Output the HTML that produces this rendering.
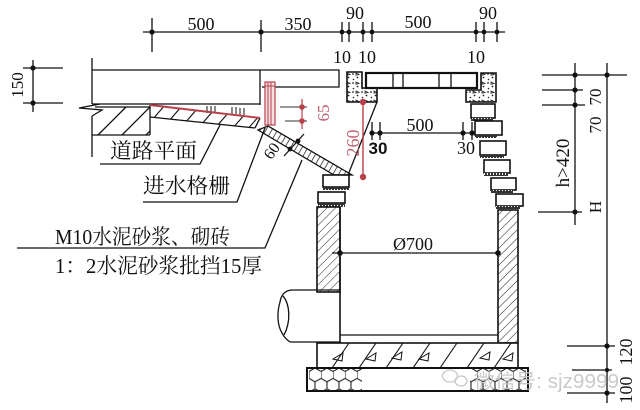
<!DOCTYPE html>
<html><head><meta charset="utf-8"><style>html,body{margin:0;padding:0;background:#fff}svg{display:block}</style></head>
<body>
<svg width="640" height="410" viewBox="0 0 640 410" xmlns="http://www.w3.org/2000/svg">
<defs>
<pattern id="hatch" width="6" height="6" patternUnits="userSpaceOnUse" patternTransform="rotate(45)"><line x1="0" y1="0" x2="0" y2="6" stroke="#222" stroke-width="1"/></pattern>
<pattern id="hatchS" width="5" height="5" patternUnits="userSpaceOnUse" patternTransform="rotate(30)"><line x1="0" y1="0" x2="0" y2="5" stroke="#222" stroke-width="1.5"/></pattern>
<pattern id="conc" width="9" height="9" patternUnits="userSpaceOnUse"><circle cx="2" cy="2" r="0.9" fill="#222"/><circle cx="6.5" cy="5.5" r="0.9" fill="#222"/><circle cx="2.5" cy="7.5" r="0.8" fill="#222"/><path d="M5,1 L8,2.5 L5,3.2 Z" fill="none" stroke="#222" stroke-width="0.8"/></pattern>
<pattern id="mortar" width="3" height="4" patternUnits="userSpaceOnUse"><rect width="3" height="4" fill="#333"/><rect x="1" y="1" width="1" height="2" fill="#fff"/></pattern>
<pattern id="hex" x="309" y="368" width="12" height="20.78" patternUnits="userSpaceOnUse"><path d="M0,3.46 L0,10.39 L6,13.86 L12,10.39 M6,13.86 L6,20.78 M0,3.46 L6,0 L12,3.46" fill="none" stroke="#222" stroke-width="1.1"/></pattern>
<clipPath id="baseClip"><rect x="317" y="343" width="201" height="25"/></clipPath>
<clipPath id="slopeClip"><polygon points="150,105 260,118 255,128 150,117"/></clipPath>
<clipPath id="roadClip"><rect x="93" y="107" width="57" height="28"/></clipPath>
</defs>

<g stroke="#111" stroke-width="1.3" fill="none">
<!-- top dimension -->
<line x1="143" y1="32" x2="505" y2="32"/>
<line x1="152" y1="18" x2="152" y2="52"/><line x1="261" y1="20" x2="261" y2="52"/>
<line x1="342" y1="22" x2="342" y2="42"/><line x1="349" y1="22" x2="349" y2="42"/>
<line x1="363" y1="22" x2="363" y2="42"/><line x1="372" y1="22" x2="372" y2="42"/>
<line x1="476" y1="22" x2="476" y2="42"/><line x1="484" y1="22" x2="484" y2="42"/>
<line x1="497" y1="22" x2="497" y2="42"/>

<!-- left 150 dim -->
<line x1="33" y1="60" x2="33" y2="112"/>
<line x1="23" y1="68" x2="63" y2="68"/><line x1="23" y1="103" x2="63" y2="103"/>

<!-- road slab -->
<line x1="92" y1="58" x2="92" y2="104"/>
<polyline points="92,70 339,70 339,87 262,87"/>
<line x1="260" y1="70" x2="260" y2="105"/>
<line x1="92" y1="104" x2="260" y2="104"/>
<polyline points="100,104 79,108 102,110 92,116"/>
<line x1="92" y1="116" x2="92" y2="157"/>
<line x1="92" y1="135" x2="150" y2="135"/>
<line x1="95" y1="107" x2="150" y2="107"/>
<line x1="150" y1="105" x2="150" y2="135"/>
<g clip-path="url(#roadClip)">
<line x1="98" y1="135" x2="126" y2="107"/><line x1="122" y1="135" x2="150" y2="107"/><line x1="146" y1="135" x2="174" y2="107"/>
</g>
<!-- sloped layer -->
<line x1="150" y1="117" x2="255" y2="128"/>
<line x1="260" y1="118" x2="255" y2="128"/>
<g clip-path="url(#slopeClip)" stroke-width="1.1">
<line x1="152" y1="120" x2="166" y2="104"/><line x1="168" y1="122" x2="182" y2="106"/><line x1="184" y1="124" x2="198" y2="108"/>
<line x1="200" y1="126" x2="214" y2="110"/><line x1="216" y1="127" x2="230" y2="111"/><line x1="232" y1="129" x2="246" y2="113"/>
<line x1="246" y1="131" x2="260" y2="115"/>
</g>
<g stroke-width="1">
<line x1="207" y1="106" x2="207" y2="113"/><line x1="211" y1="106" x2="211" y2="113"/><line x1="215" y1="106" x2="215" y2="113"/>
<line x1="232" y1="107" x2="232" y2="114"/><line x1="236" y1="107" x2="236" y2="114"/><line x1="240" y1="108" x2="240" y2="115"/><line x1="244" y1="108" x2="244" y2="115"/>
</g>

<!-- sloped support strip -->
<polygon points="268,126 352,175 334,175 258,130" fill="url(#hatchS)"/>
<!-- 60 dim -->
<line x1="304" y1="134" x2="284" y2="156"/>
<!-- side line -->
<line x1="377" y1="102" x2="348" y2="175"/>

<!-- left bricks -->
<rect x="323" y="175" width="26" height="12" fill="#fff" stroke-width="1.6"/>
<rect x="323" y="187" width="26" height="3" fill="url(#mortar)" stroke="none"/>
<rect x="318" y="192" width="27" height="11" fill="#fff" stroke-width="1.6"/>
<rect x="318" y="203" width="27" height="4" fill="url(#mortar)" stroke="none"/>
<!-- right bricks -->
<rect x="471" y="104" width="24" height="14" fill="#fff" stroke-width="1.6"/>
<rect x="471" y="118" width="22" height="3" fill="url(#mortar)" stroke="none"/>
<rect x="475" y="121" width="27" height="14" fill="#fff" stroke-width="1.6"/>
<rect x="475" y="135" width="22" height="3" fill="url(#mortar)" stroke="none"/>
<rect x="480" y="141" width="26" height="14" fill="#fff" stroke-width="1.6"/>
<rect x="480" y="155" width="24" height="3" fill="url(#mortar)" stroke="none"/>
<rect x="484" y="160" width="26" height="13" fill="#fff" stroke-width="1.6"/>
<rect x="484" y="173" width="24" height="3" fill="url(#mortar)" stroke="none"/>
<rect x="491" y="178" width="25" height="12" fill="#fff" stroke-width="1.6"/>
<rect x="491" y="190" width="22" height="3" fill="url(#mortar)" stroke="none"/>
<rect x="496" y="194" width="27" height="12" fill="#fff" stroke-width="1.6"/>
<rect x="496" y="206" width="24" height="3" fill="url(#mortar)" stroke="none"/>

<!-- top covers -->
<polygon points="347,72 362,72 362,88 377,88 377,102 347,102" fill="url(#conc)" stroke-width="1.6"/>
<rect x="366" y="73" width="111" height="15" fill="#fff" stroke-width="2.2"/>
<line x1="393" y1="73" x2="393" y2="88"/><line x1="403" y1="73" x2="403" y2="88"/>
<line x1="439" y1="73" x2="439" y2="88"/><line x1="451" y1="73" x2="451" y2="88"/>
<polygon points="481,73 496,73 496,102 466,102 466,90 481,90" fill="url(#conc)" stroke-width="1.6"/>

<!-- walls -->
<rect x="317" y="207" width="23" height="85" fill="url(#hatch)" stroke-width="1.6"/>
<line x1="340" y1="207" x2="340" y2="343" stroke-width="1.6"/>
<rect x="498" y="210" width="20" height="133" fill="url(#hatch)" stroke-width="1.6"/>
<line x1="340" y1="335" x2="498" y2="335"/>

<!-- pipe -->
<line x1="291" y1="290" x2="340" y2="290"/>
<line x1="290" y1="342" x2="340" y2="342"/>
<path d="M291,290 C284,291 281,296 280,302 C277,312 277,325 282,333 C284,337 287,340 290,342"/>
<path d="M283,296 C290,304 291,322 284,335"/>

<!-- O700 dim -->
<line x1="332" y1="253" x2="498" y2="253"/>

<!-- base concrete -->
<rect x="317" y="343" width="201" height="25" fill="#fff" stroke-width="1.6"/>
<g clip-path="url(#baseClip)" stroke-width="1.1">
<line x1="332" y1="368" x2="349" y2="343"/><line x1="359" y1="368" x2="376" y2="343"/>
<line x1="386" y1="368" x2="403" y2="343"/><line x1="413" y1="368" x2="430" y2="343"/>
<line x1="440" y1="368" x2="457" y2="343"/><line x1="467" y1="368" x2="484" y2="343"/>
<line x1="494" y1="368" x2="511" y2="343"/>
</g>
<g stroke-width="1">
<path d="M333,359 L343,353 L342,361 Z"/><path d="M366,359 L376,353 L375,361 Z"/>
<path d="M392,358 L402,352 L401,360 Z"/><path d="M419,359 L429,353 L428,361 Z"/>
<path d="M480,358 L490,352 L489,360 Z"/><path d="M503,359 L513,353 L512,361 Z"/>
</g>
<!-- gravel -->
<rect x="307" y="368" width="221" height="23" fill="#fff" stroke-width="2"/>
<rect x="309" y="369" width="53" height="21" fill="url(#hex)" stroke="none"/>
<rect x="470" y="369" width="56" height="21" fill="url(#hex)" stroke="none"/>

<!-- inner 500 dim -->
<line x1="372" y1="133" x2="472" y2="133"/>
<line x1="372" y1="122" x2="372" y2="140"/><line x1="380" y1="122" x2="380" y2="140"/>
<line x1="463" y1="122" x2="463" y2="140"/><line x1="472" y1="122" x2="472" y2="140"/>

<!-- right dims -->
<line x1="575" y1="63" x2="575" y2="225"/>
<line x1="607" y1="63" x2="607" y2="403"/>
<line x1="542" y1="75" x2="627" y2="75"/>
<line x1="542" y1="90" x2="583" y2="90"/>
<line x1="542" y1="105" x2="585" y2="105"/>
<line x1="538" y1="212" x2="582" y2="212"/>
<line x1="567" y1="346" x2="615" y2="346"/>
<line x1="572" y1="370" x2="612" y2="370"/>
<line x1="567" y1="393" x2="615" y2="393"/>

<!-- leaders -->
<polyline points="100,164 200,164 220,125"/>
<polyline points="143,202 237,202 265,128"/>
<polyline points="17,248 265,248 302,160"/>
</g>

<!-- dots -->
<g fill="#111">
<circle cx="152" cy="32" r="2.6"/><circle cx="261" cy="32" r="2.6"/>
<circle cx="342" cy="32" r="2.4"/><circle cx="349" cy="32" r="2.4"/><circle cx="363" cy="32" r="2.4"/><circle cx="372" cy="32" r="2.4"/>
<circle cx="476" cy="32" r="2.4"/><circle cx="484" cy="32" r="2.4"/><circle cx="497" cy="32" r="2.4"/>
<circle cx="33" cy="68" r="2.6"/><circle cx="33" cy="103" r="2.6"/>
<circle cx="298" cy="141" r="2.4"/><circle cx="290" cy="149" r="2.4"/>
<circle cx="372" cy="133" r="2.6"/><circle cx="380" cy="133" r="2.6"/><circle cx="463" cy="133" r="2.6"/><circle cx="472" cy="133" r="2.6"/>
<circle cx="340" cy="253" r="2.8"/><circle cx="498" cy="253" r="2.8"/>
<circle cx="575" cy="75" r="2.6"/><circle cx="607" cy="75" r="2.6"/><circle cx="575" cy="90" r="2.6"/><circle cx="575" cy="105" r="2.6"/>
<circle cx="575" cy="212" r="2.6"/><circle cx="607" cy="346" r="2.6"/><circle cx="607" cy="370" r="2.2"/><circle cx="607" cy="393" r="2.6"/>
</g>

<!-- red elements -->
<g stroke="#b8404a" fill="none">
<line x1="150" y1="105" x2="260" y2="118" stroke-width="2"/>
<rect x="265" y="82" width="10" height="43" fill="#f4e0e0" stroke-width="1.2"/>
<line x1="268" y1="82" x2="268" y2="125"/><line x1="271" y1="82" x2="271" y2="125"/>
<line x1="265" y1="86" x2="275" y2="86"/>
<line x1="280" y1="107" x2="307" y2="107" stroke="#333"/>
<line x1="285" y1="121" x2="307" y2="121" stroke="#333"/>
<line x1="302" y1="99" x2="302" y2="129" stroke-width="1.2"/>
<line x1="363" y1="102" x2="363" y2="177" stroke-width="1.4"/>
</g>
<g fill="#b8404a">
<circle cx="302" cy="107" r="2.8"/><circle cx="302" cy="121" r="2.8"/>
<circle cx="363" cy="102" r="3.2"/><circle cx="363" cy="177" r="3.2"/>
</g>
<text transform="translate(329,113) rotate(-90)" text-anchor="middle" font-family="Liberation Serif, serif" font-size="17" fill="#c06070">65</text>
<text transform="translate(359,143) rotate(-90)" text-anchor="middle" font-family="Liberation Serif, serif" font-size="18" fill="#c06070">260</text>

<!-- dimension text -->
<g font-family="Liberation Serif, serif" font-size="18" fill="#111" text-anchor="middle">
<text x="201" y="30">500</text>
<text x="298" y="30">350</text>
<text x="355" y="19">90</text>
<text x="418" y="28">500</text>
<text x="488" y="19">90</text>
<text x="342" y="63">10</text>
<text x="367" y="63">10</text>
<text x="476" y="63">10</text>
<text x="420" y="131">500</text>
<text x="466" y="154">30</text>
<text x="413" y="250">Ø700</text>
<text transform="translate(23,85) rotate(-90)" font-size="17">150</text>
<text transform="translate(276,154) rotate(-55)" font-size="16">60</text>
<text transform="translate(601,97) rotate(-90)" font-size="17">70</text>
<text transform="translate(601,125) rotate(-90)" font-size="17">70</text>
<text transform="translate(569,163) rotate(-90)" font-size="19">h&gt;420</text>
<text transform="translate(601,207) rotate(-90)" font-size="17">H</text>
<text transform="translate(632,352) rotate(-90)" font-size="18">120</text>
<text transform="translate(632,390) rotate(-90)" font-size="18">100</text>
</g>
<text x="378" y="154" text-anchor="middle" font-family="Liberation Sans, sans-serif" font-weight="bold" font-size="17" fill="#111">30</text>

<!-- labels -->
<g font-family="Liberation Serif, 'Noto Serif CJK SC', serif" font-size="21" fill="#111">
<text x="110" y="158" textLength="87" lengthAdjust="spacingAndGlyphs">道路平面</text>
<text x="143" y="193" textLength="87" lengthAdjust="spacingAndGlyphs">进水格栅</text>
<text x="55" y="244" textLength="175" lengthAdjust="spacingAndGlyphs">M10水泥砂浆、砌砖</text>
<text x="55" y="273" textLength="207" lengthAdjust="spacingAndGlyphs">1：2水泥砂浆批挡15厚</text>
</g>

<!-- watermark -->
<g stroke="#c4c4c4" fill="none" stroke-width="1.3" opacity="0.9">
<ellipse cx="450" cy="376" rx="7.5" ry="6"/>
<ellipse cx="461" cy="381" rx="6" ry="5"/>
</g>
<text x="474" y="388" font-family="Liberation Sans, 'Noto Sans CJK SC', sans-serif" font-size="20" fill="#c4c4c4" fill-opacity="0.9" textLength="145" lengthAdjust="spacingAndGlyphs">微信号: sjz9999</text>
</svg>
</body></html>
